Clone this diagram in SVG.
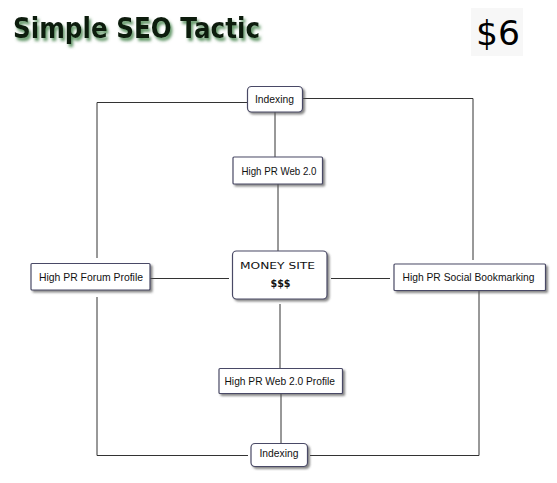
<svg xmlns="http://www.w3.org/2000/svg" width="557" height="483" viewBox="0 0 557 483">
<defs>
<filter id="glow" x="-10%" y="-30%" width="120%" height="170%">
<feGaussianBlur in="SourceAlpha" stdDeviation="1.8" result="b"/>
<feOffset in="b" dx="2" dy="3" result="o"/>
<feFlood flood-color="#4f8a55" flood-opacity="0.9"/>
<feComposite in2="o" operator="in" result="s"/>
<feMerge><feMergeNode in="s"/><feMergeNode in="SourceGraphic"/></feMerge>
</filter>
<filter id="sh" x="-10%" y="-20%" width="130%" height="150%">
<feGaussianBlur in="SourceAlpha" stdDeviation="0.8" result="b"/>
<feOffset in="b" dx="1.5" dy="1.5" result="o"/>
<feFlood flood-color="#555" flood-opacity="0.7"/>
<feComposite in2="o" operator="in" result="s"/>
<feMerge><feMergeNode in="s"/><feMergeNode in="SourceGraphic"/></feMerge>
</filter>
</defs>
<style>
.box{fill:#fff;stroke:#4a4a66;stroke-width:1.2;filter:url(#sh)}
.t{font-family:"Liberation Sans",Arial,sans-serif;font-size:11px;fill:#111}
.c{fill:none;stroke:#333;stroke-width:1}
</style>
<rect width="557" height="483" fill="#fff"/>
<g id="title">
<text x="13" y="38" font-family="'DejaVu Sans',sans-serif" font-weight="bold" font-size="29" fill="#0e1a0e" textLength="247" lengthAdjust="spacingAndGlyphs" filter="url(#glow)">Simple SEO Tactic</text>
</g>
<g id="price">
<rect x="471" y="8" width="52" height="48" fill="#f7f7f7"/>
<text x="476" y="45" font-family="'DejaVu Sans',sans-serif" font-size="34" fill="#000" textLength="44" lengthAdjust="spacingAndGlyphs">$6</text>
</g>
<g id="connectors">
<line class="c" x1="275" y1="112" x2="275" y2="157"/>
<line class="c" x1="278" y1="184" x2="278" y2="251"/>
<line class="c" x1="280" y1="304" x2="280" y2="368"/>
<line class="c" x1="281" y1="393" x2="281" y2="443"/>
<line class="c" x1="150" y1="278.5" x2="229" y2="278.5"/>
<line class="c" x1="331" y1="278.5" x2="390" y2="278.5"/>
<polyline class="c" points="247,102.5 97,102.5 97,258"/>
<polyline class="c" points="303,98.5 473,98.5 473,260"/>
<polyline class="c" points="97,297 97,455.5 248,455.5"/>
<polyline class="c" points="479,291 479,455.5 310,455.5"/>
</g>
<g id="indexing-top">
<rect class="box" x="247.5" y="86.5" width="55" height="25.5" rx="4"/>
<text class="t" x="255" y="103" textLength="39" lengthAdjust="spacingAndGlyphs">Indexing</text>
</g>
<g id="web20">
<rect class="box" x="233" y="157" width="89.5" height="27" rx="1"/>
<text class="t" x="241.5" y="175" textLength="75" lengthAdjust="spacingAndGlyphs">High PR Web 2.0</text>
</g>
<g id="forum">
<rect class="box" x="31" y="263.5" width="119" height="26.5" rx="1"/>
<text class="t" x="39" y="281" textLength="104" lengthAdjust="spacingAndGlyphs">High PR Forum Profile</text>
</g>
<g id="money">
<rect class="box" x="232.5" y="251" width="94.5" height="48" rx="4"/>
<text x="240" y="269" font-family="'DejaVu Sans',sans-serif" font-size="9.5" fill="#111" textLength="75" lengthAdjust="spacingAndGlyphs">MONEY SITE</text>
<text x="270.5" y="287" font-family="'DejaVu Sans',sans-serif" font-weight="bold" font-size="11" fill="#111" textLength="20" lengthAdjust="spacingAndGlyphs">$$$</text>
</g>
<g id="social">
<rect class="box" x="394" y="264" width="151.5" height="26.5" rx="1"/>
<text class="t" x="402.5" y="281" textLength="132" lengthAdjust="spacingAndGlyphs">High PR Social Bookmarking</text>
</g>
<g id="web20profile">
<rect class="box" x="219" y="368.5" width="123.5" height="25" rx="1"/>
<text class="t" x="224.5" y="384.5" textLength="110.5" lengthAdjust="spacingAndGlyphs">High PR Web 2.0 Profile</text>
</g>
<g id="indexing-bottom">
<rect class="box" x="251" y="443.5" width="56.5" height="23" rx="4"/>
<text class="t" x="259.5" y="457" textLength="39" lengthAdjust="spacingAndGlyphs">Indexing</text>
</g>
</svg>
